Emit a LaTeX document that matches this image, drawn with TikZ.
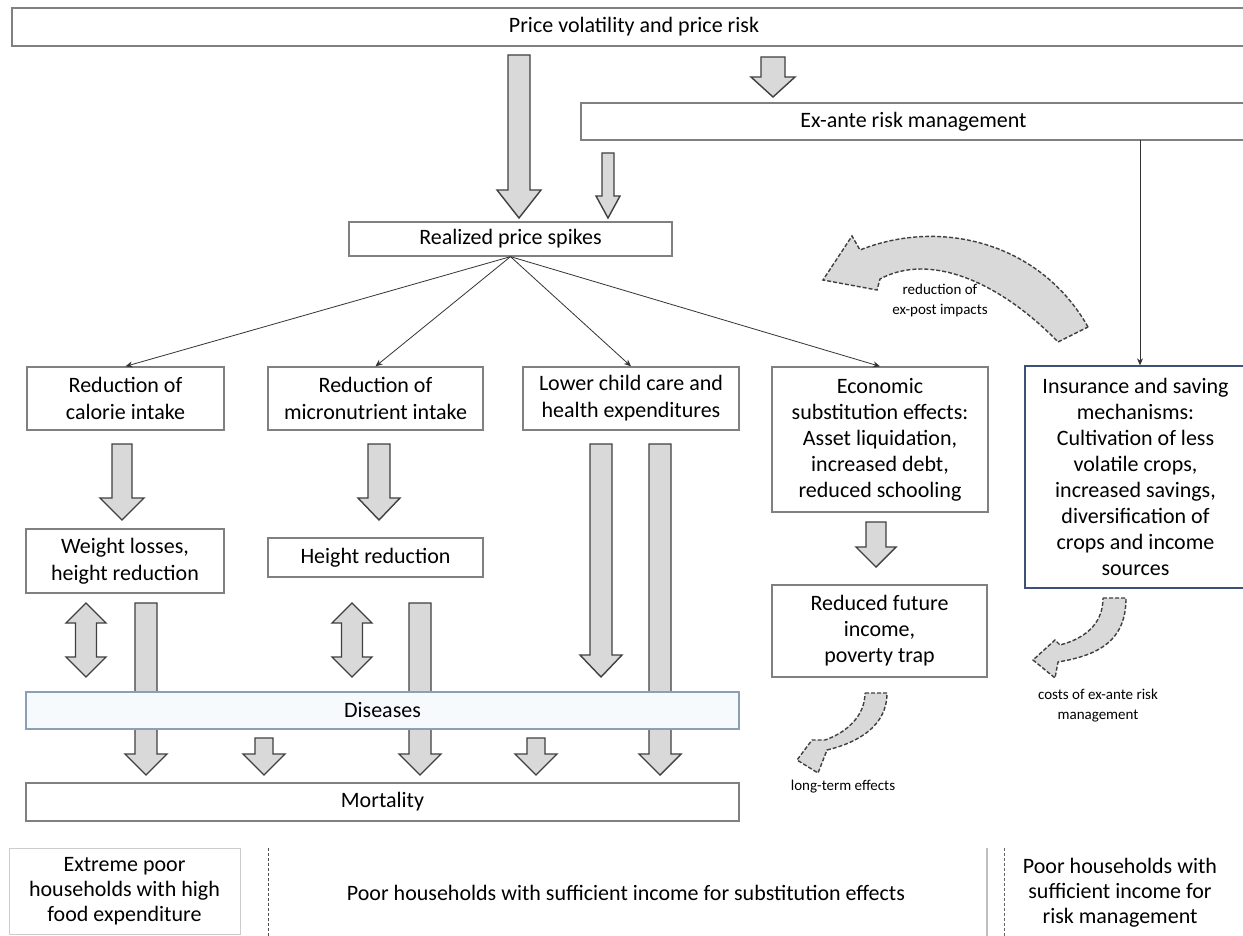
\documentclass[tikz,border=0pt]{standalone}
\usepackage{fontspec}
\setmainfont{Carlito}
\usetikzlibrary{arrows.meta}

\definecolor{boxline}{RGB}{128,128,128}
\definecolor{arrowfill}{RGB}{217,217,217}
\definecolor{arrowline}{RGB}{64,64,64}
\definecolor{diseasefill}{RGB}{246,250,253}
\definecolor{diseaseline}{RGB}{140,160,180}
\definecolor{insurline}{RGB}{60,80,120}

% block arrow pointing down: x, top, tip, half shaft, half head, head length
\newcommand{\blockdown}[6]{%
  \draw[blockarrow] (#1-#4,#2) -- (#1+#4,#2) -- (#1+#4,#3-#6) -- (#1+#5,#3-#6)
    -- (#1,#3) -- (#1-#5,#3-#6) -- (#1-#4,#3-#6) -- cycle;}
% block arrow pointing up and down: x, top, bottom, half shaft, half head, head length
\newcommand{\blockboth}[6]{%
  \draw[blockarrow] (#1,#2) -- (#1+#5,#2+#6) -- (#1+#4,#2+#6) -- (#1+#4,#3-#6)
    -- (#1+#5,#3-#6) -- (#1,#3) -- (#1-#5,#3-#6) -- (#1-#4,#3-#6)
    -- (#1-#4,#2+#6) -- (#1-#5,#2+#6) -- cycle;}

\begin{document}
\begin{tikzpicture}[x=1pt,y=-1pt,
  box/.style={draw=boxline, line width=1.3pt, fill=white, inner sep=2pt,
    align=center, font=\fontsize{22}{27}\selectfont},
  bigbox/.style={box, font=\fontsize{22}{26}\selectfont},
  blockarrow/.style={draw=arrowline, fill=arrowfill, line width=1.4pt, line join=miter},
  curvearrow/.style={draw=arrowline, fill=arrowfill, line width=1.4pt, dash pattern=on 4pt off 2pt},
  thinarrow/.style={draw=black!80, line width=0.8pt, -{Stealth[length=7pt,width=6pt]}},
  smalllabel/.style={align=center, font=\fontsize{15}{20}\selectfont},
  legend/.style={align=center, font=\fontsize{22}{25}\selectfont}]

\useasboundingbox (0,0) rectangle (1243,936);
\fill[white] (0,0) rectangle (1243,936);

% ===== Curved dashed arrows =====
\draw[curvearrow] (1088,327) .. controls (1040,242) and (940,218) .. (860,250)
  -- (852,236) -- (823,280) -- (877,290) -- (880,279)
  .. controls (930,252) and (1000,282) .. (1058,342) -- cycle;
\node[smalllabel] (expost) at (940,301) {reduction of\\ex-post impacts};

\draw[curvearrow] (865,693) -- (887,693) .. controls (887,725) and (860,742) .. (827,750)
  -- (818,773) -- (797,760) -- (812,740) -- (825,740)
  .. controls (848,732) and (865,715) .. (865,693) -- cycle;
\node[smalllabel] (longterm) at (843,787) {long-term effects};

\draw[curvearrow] (1103,598) -- (1126,598) .. controls (1126,640) and (1100,655) .. (1058,662)
  -- (1055,678) -- (1033,660) -- (1055,640) -- (1060,645)
  .. controls (1090,637) and (1103,620) .. (1103,598) -- cycle;
\node[smalllabel] (costs) at (1098,706) {costs of ex-ante risk\\management};

% ===== Block arrows =====
\blockdown{519}{55}{218}{11}{22}{28}
\blockdown{773}{57}{97}{12}{22}{20}
\blockdown{608}{153}{218}{6}{12}{22}
\blockdown{122}{444}{520}{10}{22}{22}
\blockdown{379}{444}{520}{11}{21}{22}
\blockdown{601}{444}{677}{11}{21}{22}
\blockdown{660}{444}{775}{11}{21}{21}
\blockdown{146}{603}{775}{11}{21}{21}
\blockdown{420}{603}{775}{11}{21}{21}
\blockdown{264}{738}{775}{9}{21}{21}
\blockdown{536}{738}{775}{9}{21}{21}
\blockdown{876}{522}{567}{10}{20}{20}
\blockboth{86}{603}{677}{10.5}{20}{20}
\blockboth{352}{603}{677}{10.5}{20}{20}

% ===== Boxes =====
\node[box, minimum width=1244pt, minimum height=38pt] (volatility) at (634,27) {Price volatility and price risk};
\node[box, minimum width=665pt, minimum height=37pt] (exante) at (913.5,121.5) {Ex-ante risk management};
\node[box, minimum width=323pt, minimum height=34pt] (spikes) at (510.5,239) {Realized price spikes};

\node[box, minimum width=197pt, minimum height=63pt] (calorie) at (125.5,398.5) {Reduction of\\calorie intake};
\node[box, minimum width=215pt, minimum height=63pt] (micro) at (375.5,398.5) {Reduction of\\micronutrient intake};
\node[box, minimum width=216pt, minimum height=63pt] (childcare) at (631,398.5) {Lower child care and\\health expenditures};
\node[bigbox, minimum width=216pt, minimum height=145pt] (economic) at (880,439.5) {Economic\\substitution effects:\\Asset liquidation,\\increased debt,\\reduced schooling};
\node[bigbox, draw=insurline, minimum width=221pt, minimum height=222pt] (insurance) at (1135.5,477) {Insurance and saving\\mechanisms:\\Cultivation of less\\volatile crops,\\increased savings,\\diversification of\\crops and income\\sources};

\node[box, minimum width=198pt, minimum height=64pt] (weight) at (125,561) {Weight losses,\\height reduction};
\node[box, minimum width=215pt, minimum height=39pt] (height) at (375.5,557.5) {Height reduction};
\node[bigbox, minimum width=215pt, minimum height=92pt] (future) at (879.5,631) {Reduced future\\income,\\poverty trap};

\node[box, draw=diseaseline, fill=diseasefill, minimum width=713pt, minimum height=37pt] (diseases) at (382.5,710.5) {Diseases};
\node[box, minimum width=713pt, minimum height=38pt] (mortality) at (382.5,802) {Mortality};

% ===== Thin arrows =====
\draw[thinarrow] (spikes.south) -- (calorie.north);
\draw[thinarrow] (spikes.south) -- (micro.north);
\draw[thinarrow] (spikes.south) -- (childcare.north);
\draw[thinarrow] (spikes.south) -- (economic.north);
\coordinate (riskline) at (1140,140);
\draw[thinarrow] (riskline) -- (riskline |- insurance.north);

% ===== Household groups =====
\node[legend, draw=gray!40, line width=1pt, minimum width=231pt, minimum height=86pt] (extreme) at (124.5,891) {Extreme poor\\households with high\\food expenditure};
\node[legend] (substit) at (626,893) {Poor households with sufficient income for substitution effects};
\node[legend] (riskgroup) at (1120,893) {Poor households with\\sufficient income for\\risk management};
\draw[black!70, densely dashed, line width=0.8pt] (268,848) -- (268,936);
\draw[gray!50, line width=1.2pt] (987,848) -- (987,936);
\draw[black!60, densely dashed, line width=0.8pt] (1004,848) -- (1004,936);

\end{tikzpicture}
\end{document}
